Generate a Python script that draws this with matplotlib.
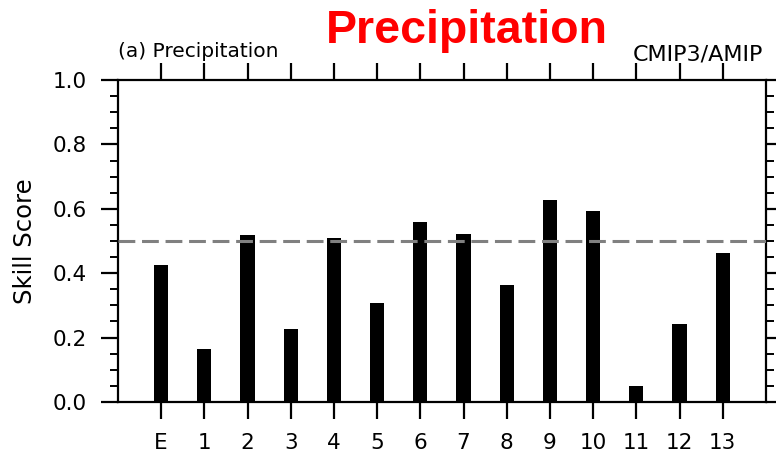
"""
Skill score bar chart: precipitation, CMIP3/AMIP
"""

import numpy as np
import matplotlib
matplotlib.use("Agg")
import matplotlib.pyplot as plt
from matplotlib.ticker import MultipleLocator

# Data
models = ["E", "1", "2", "3", "4", "5", "6", "7", "8", "9", "10", "11", "12", "13"]
skill = [0.425, 0.164, 0.520, 0.226, 0.510, 0.306, 0.560,
         0.523, 0.362, 0.626, 0.592, 0.049, 0.243, 0.464]
reference_level = 0.5

fig = plt.figure(figsize=(7.76, 4.58), dpi=100)
ax = fig.add_axes([0.152, 0.1223, 0.835, 0.703])

x = np.arange(len(models))
ax.bar(x, skill, width=0.33, color="black", zorder=2)
ax.axhline(reference_level, color="#808080", linestyle=(0, (5.5, 2.2)),
           linewidth=2.2, zorder=3)

ax.set_xlim(-1, 14)
ax.set_ylim(0, 1.0)
ax.set_xticks(x)
ax.set_xticklabels(models)
ax.yaxis.set_major_locator(MultipleLocator(0.2))
ax.yaxis.set_minor_locator(MultipleLocator(0.05))
ax.set_yticklabels([f"{v:.1f}" for v in ax.get_yticks()])

for s in ax.spines.values():
    s.set_linewidth(1.6)

ax.tick_params(axis="both", which="major", direction="out", width=1.6,
               length=12, labelsize=15.5, colors="black")
ax.tick_params(axis="x", top=True, pad=10)
ax.tick_params(axis="y", right=True, pad=10.5)
ax.tick_params(axis="y", which="minor", direction="out", left=True,
               right=True, width=1.4, length=6)

ax.set_ylabel("Skill Score", fontsize=17.5, labelpad=11)

ax.text(0.0, 1.072, "(a) Precipitation", transform=ax.transAxes,
        fontsize=14.5, ha="left", va="baseline")
ax.text(0.996, 1.060, "CMIP3/AMIP", transform=ax.transAxes,
        fontsize=16, ha="right", va="baseline")

fig.text(466.5 / 776, 1 - 43 / 458, "Precipitation", color="red",
         fontsize=33.5, fontweight="bold", family="Liberation Sans",
         ha="center", va="baseline")

fig.savefig("out.png", dpi=100)
